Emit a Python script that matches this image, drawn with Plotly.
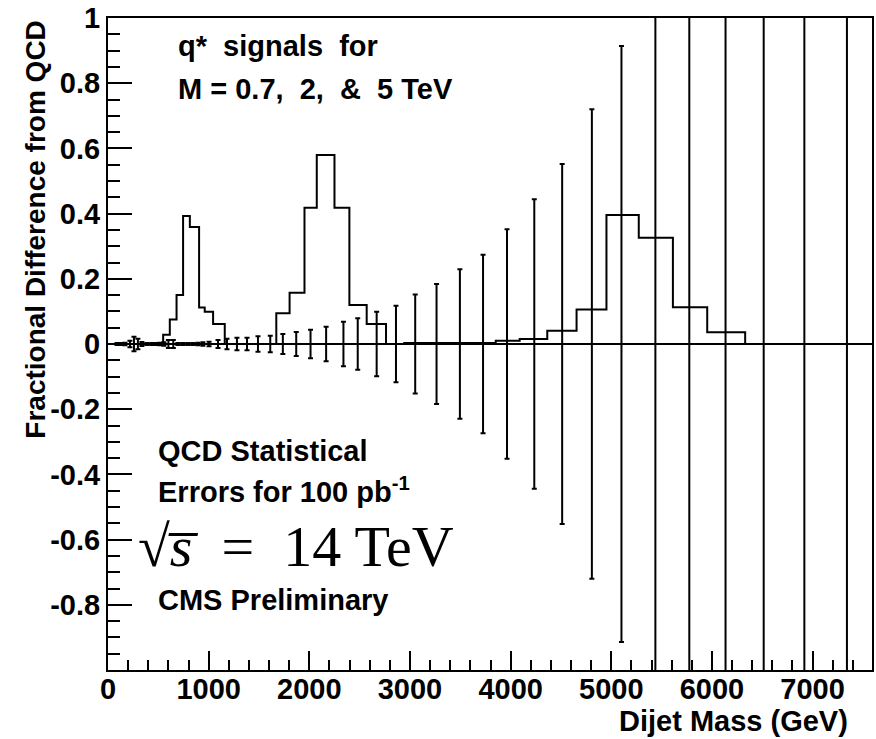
import plotly.graph_objects as go

# ---------------- data ----------------
# QCD statistical errors for 100 pb^-1 : bin centres (GeV) and fractional error
qcd_mass = [89, 129, 168, 218, 258, 297, 337, 387, 436, 476, 515, 555, 600, 649,
            694, 743, 793, 842, 892, 942, 1004, 1093, 1182, 1281, 1381, 1490,
            1612, 1737, 1870, 2012, 2167, 2339, 2481, 2669, 2861, 3052, 3264,
            3496, 3726, 3964, 4235, 4512, 4807, 5101, 5438, 5775, 6135, 6514,
            6918, 7341]
qcd_err = [0.003, 0.003, 0.004, 0.010, 0.022, 0.016, 0.006, 0.003, 0.003, 0.003,
           0.004, 0.005, 0.012, 0.012, 0.003, 0.003, 0.003, 0.003, 0.004, 0.005,
           0.007, 0.012, 0.016, 0.019, 0.019, 0.024, 0.025, 0.031, 0.037, 0.044,
           0.053, 0.068, 0.079, 0.099, 0.117, 0.152, 0.184, 0.229, 0.274, 0.352,
           0.444, 0.552, 0.720, 0.914, 1.3, 1.6, 2.0, 2.5, 3.2, 4.0]

# q* signals (fractional difference from QCD), step histograms: bin edges + contents
sig07_edges = [548, 614, 681, 746, 813, 905, 961, 1044, 1160]
sig07_vals = [0.028, 0.075, 0.150, 0.393, 0.359, 0.112, 0.099, 0.061]

sig2_edges = [1672, 1804, 1952, 2074, 2250, 2398, 2570, 2762]
sig2_vals = [0.094, 0.157, 0.418, 0.580, 0.418, 0.120, 0.061]

sig5_edges = [2943, 3852, 4090, 4364, 4655, 4952, 5273, 5612, 5953, 6330]
sig5_vals = [0.003, 0.010, 0.015, 0.041, 0.106, 0.396, 0.326, 0.113, 0.036]

x_ticks = [0, 1000, 2000, 3000, 4000, 5000, 6000, 7000]
y_ticks = [-0.8, -0.6, -0.4, -0.2, 0, 0.2, 0.4, 0.6, 0.8, 1]
y_ticklabels = ["-0.8", "-0.6", "-0.4", "-0.2", "0", "0.2", "0.4", "0.6", "0.8", "1"]

# ---------------- figure ----------------
FONT = "Liberation Sans, Arial, sans-serif"
fig = go.Figure()


def step_trace(edges, vals):
    xs = [edges[0]] + list(edges)
    ys = [0] + list(vals) + [0]
    return go.Scatter(x=xs, y=ys, mode="lines", line=dict(shape="hv", color="black", width=2),
                      hoverinfo="skip", showlegend=False)


for e, v in [(sig07_edges, sig07_vals), (sig2_edges, sig2_vals), (sig5_edges, sig5_vals)]:
    fig.add_trace(step_trace(e, v))

fig.add_trace(go.Scatter(
    x=qcd_mass, y=[0] * len(qcd_mass), mode="markers",
    marker=dict(size=1, color="rgba(0,0,0,0)"),
    error_y=dict(type="data", array=qcd_err, symmetric=True, color="black",
                 thickness=2, width=2.5),
    showlegend=False, hoverinfo="skip"))

W, H = 876, 739
L, R, T, B = 108, 2, 18, 69
pw, ph = W - L - R, H - T - B


def px(xp):
    return (xp - L) / pw


def py(yp):
    return (H - B - yp) / ph


tfont = dict(family=FONT, size=29, color="black", weight="bold")

fig.update_layout(
    width=W, height=H,
    margin=dict(l=L, r=R, t=T, b=B),
    paper_bgcolor="white", plot_bgcolor="white",
    showlegend=False,
    xaxis=dict(range=[0, 7590], showgrid=False, zeroline=False,
               showline=True, linecolor="black", linewidth=2, mirror=True,
               ticks="inside", ticklen=19, tickwidth=2, tickcolor="black",
               tickvals=x_ticks, ticktext=[str(v) for v in x_ticks],
               tickfont=tfont, ticklabelstandoff=-8,
               minor=dict(ticks="inside", ticklen=10, tickwidth=2, tickcolor="black",
                          dtick=200, tick0=0, showgrid=False)),
    yaxis=dict(range=[-1, 1], showgrid=False, zeroline=True, zerolinecolor="black",
               zerolinewidth=2,
               showline=True, linecolor="black", linewidth=2, mirror=True,
               ticks="inside", ticklen=24, tickwidth=2, tickcolor="black",
               tickvals=y_ticks, ticktext=y_ticklabels, tickfont=tfont,
               minor=dict(ticks="inside", ticklen=12, tickwidth=2, tickcolor="black",
                          dtick=0.05, tick0=0, showgrid=False)),
)

ann = []


def text(s, x, y, xanchor="left", yanchor="middle", font=None, **kw):
    ann.append(dict(text=s, x=x, y=y, xref="paper", yref="paper", xanchor=xanchor,
                    yanchor=yanchor, showarrow=False, font=font or tfont, **kw))


text("q*  signals  for", px(176), py(46))
text("M = 0.7,  2,  &  5 TeV", px(176), py(89))
text("QCD Statistical", px(156), py(451))
text("Errors for 100 pb<sup>-1</sup>", px(156), py(490))
text("√<i>s̅</i>\u2002=\u200214 TeV", px(136), py(546),
     font=dict(family="Liberation Serif, Times New Roman, serif", size=58, color="black"))
text("CMS Preliminary", px(156), py(600))
text("Dijet Mass (GeV)", px(852), py(721), xanchor="right")
text("Fractional Difference from QCD", px(35), 1.0, xanchor="center", yanchor="top",
     textangle=-90, font=dict(family=FONT, size=28, color="black", weight="bold"))

fig.update_layout(annotations=ann)

fig.write_html("out.html")
